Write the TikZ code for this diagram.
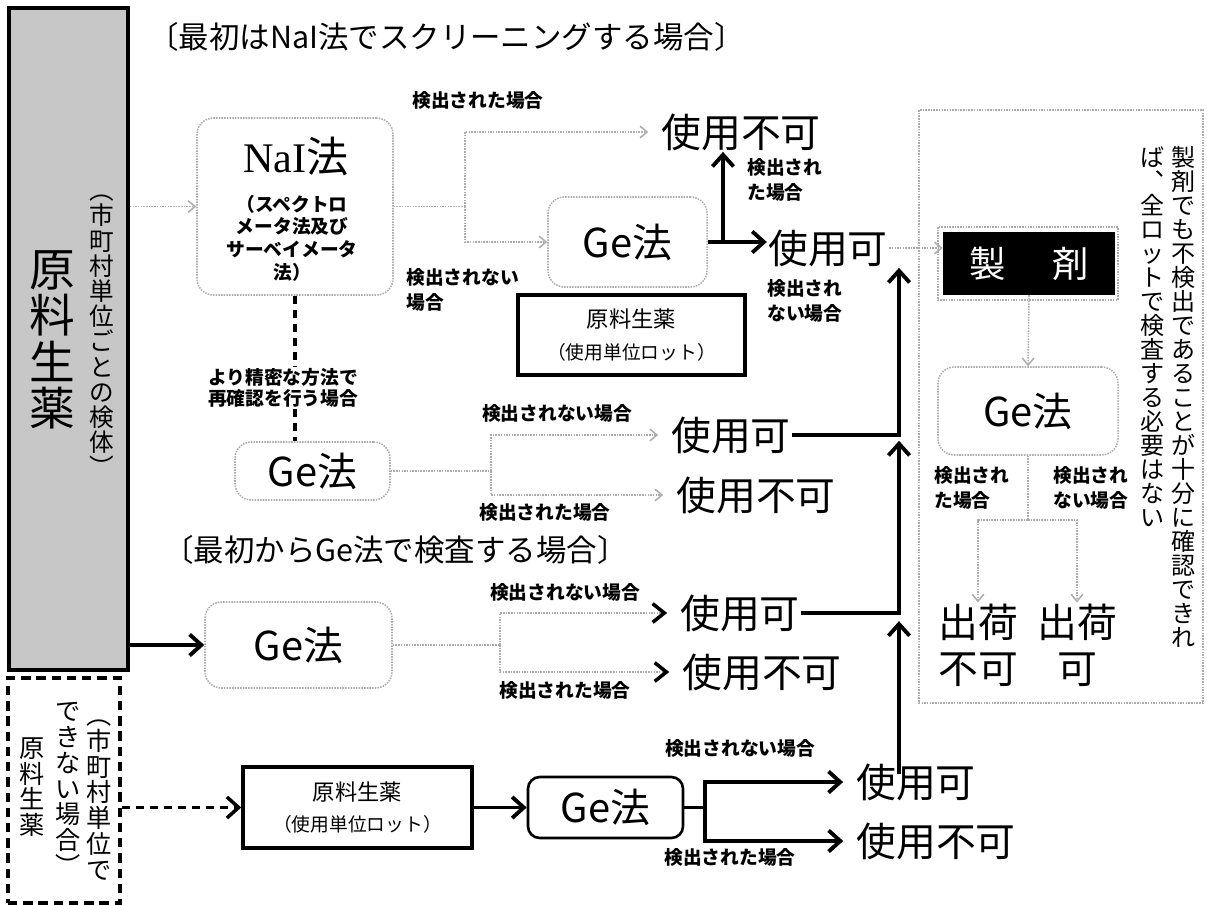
\documentclass[tikz,border=0pt]{standalone}
\usepackage{fontspec}
\setmainfont{Noto Sans CJK JP}
\newfontfamily\lserif{Liberation Serif}
\usetikzlibrary{arrows.meta}

\tikzset{
  gline/.style={draw=gray!65, densely dotted, line width=1.3pt},
  garr/.style={gline, -{Straight Barb[length=6pt,width=10pt]}},
  karr/.style={gline, -{Straight Barb[black,length=10pt,width=16pt,line width=3pt]}},
  bline/.style={draw=black, line width=3.3pt},
  barr/.style={bline, -{Straight Barb[length=10pt,width=18pt]}},
  kdash/.style={draw=black, line width=2.6pt, dash pattern=on 7pt off 5pt},
  tobig/.style={shorten >=10pt},
  dbox/.style={draw=gray!65, densely dotted, line width=1.3pt, rounded corners=14pt, inner sep=0pt},
  sbox/.style={draw=black, line width=3pt, inner sep=0pt},
  big/.style={inner sep=1pt, align=center, font=\fontsize{34}{39}\selectfont},
  gefont/.style={font=\fontsize{34}{40}\selectfont},
  lbl/.style={inner sep=1pt, align=left, font=\fontsize{16}{21}\selectfont\bfseries},
  head/.style={anchor=west, inner sep=0pt, font=\fontsize{26}{30}\selectfont},
  lot/.style={sbox, align=center, font=\fontsize{19}{27}\selectfont},
  tate/.style={inner sep=0pt, align=center},
}

\begin{document}
\begin{tikzpicture}[x=0.03cm, y=-0.03cm]
\useasboundingbox (0,0) rectangle (1207,905);

\node[head] (h1) at (148,37) {〔最初はNaI法でスクリーニングする場合〕};
\node[head] (h2) at (163,550) {〔最初からGe法で検査する場合〕};

% source boxes
\node[draw, line width=3.2pt, fill=black!22, minimum width=3.57cm, minimum height=19.86cm, inner sep=0pt] (src) at (68.5,339) {};
\node[tate, font=\fontsize{39}{39.5}\selectfont] (srcname) at (52,340) {原\\料\\生\\薬};
\node[tate, font=\fontsize{21}{21.5}\selectfont] (srcnote) at (102,336) {︵\\市\\町\\村\\単\\位\\ご\\と\\の\\検\\体\\︶};
\node[draw, line width=2.6pt, dash pattern=on 8pt off 5pt, minimum width=3.36cm, minimum height=6.75cm, inner sep=0pt] (srcb) at (64,790.5) {};
\node[tate, font=\fontsize{21.5}{22}\selectfont] (srcbn1) at (99,800) {︵\\市\\町\\村\\単\\位\\で};
\node[tate, font=\fontsize{21.5}{22}\selectfont] (srcbn2) at (68,789) {で\\き\\な\\い\\場\\合\\︶};
\node[tate, font=\fontsize{21.5}{22}\selectfont] (srcbn3) at (32,787) {原\\料\\生\\薬};

% NaI method
\node[dbox, minimum width=5.88cm, minimum height=5.31cm] (nai) at (295,206.5) {};
\node[inner sep=0pt, font=\fontsize{36}{40}\selectfont] (nainame) at (296,157) {{\lserif NaI}法};
\node[lbl, align=center, font=\fontsize{16}{19.4}\selectfont\bfseries] (naisub) at (292,238) {（スペクトロ\\メータ法及び\\サーベイメータ\\法）};
\draw[garr] (src.east |- nai.west) -- (nai.west);

\node[big] (ng1) at (741,132) {使用不可};
\node[dbox, gefont, minimum width=4.77cm, minimum height=2.7cm] (ge1) at (627.5,242) {Ge法};
\node[big] (ok1) at (828,248) {使用可};
\node[lot, minimum width=6.81cm, minimum height=2.4cm] (lot1) at (631.5,335) {原料生薬\\{\fontsize{16}{20}\selectfont （使用単位ロット）}};

\coordinate (j1) at (465,0);
\draw[gline] (nai.east) -- (nai.east -| j1);
\draw[garr, tobig] (nai.east -| j1) |- (ng1.west);
\draw[garr] (nai.east -| j1) |- (ge1.west);
\node[lbl] (l1a) at (478,100) {検出された場合};
\node[lbl, anchor=west] (l1b) at (405,290) {検出されない\\場合};

\draw[barr] (ge1.east) -- (ge1.east -| ok1.west);
\coordinate (u1) at (723,0);
\draw[barr] (ge1.east -| u1) -- (ng1.south -| u1);
\node[lbl, anchor=west] (l1c) at (746,180) {検出され\\た場合};
\node[lbl, anchor=west] (l1d) at (766,301) {検出され\\ない場合};

% re-check with Ge
\node[lbl, align=center, font=\fontsize{16}{17.5}\selectfont\bfseries] (why) at (283,388) {より精密な方法で\\再確認を行う場合};
\node[dbox, gefont, minimum width=4.65cm, minimum height=1.74cm] (ge2) at (312.5,471) {Ge法};
\draw[kdash] (nai.south) -- (nai.south |- why.north);
\draw[kdash] (nai.south |- why.south) -- (nai.south |- ge2.north);

\node[big] (ok2) at (731,435) {使用可};
\node[big] (ng2) at (756,495) {使用不可};
\coordinate (j2) at (491,0);
\draw[gline] (ge2.east) -- (ge2.east -| j2);
\draw[garr, tobig] (ge2.east -| j2) |- (ok2.west);
\draw[garr, tobig] (ge2.east -| j2) |- (ng2.west);
\node[lbl] (l2a) at (557,413) {検出されない場合};
\node[lbl] (l2b) at (545,512) {検出された場合};

% Ge from the start
\node[dbox, gefont, minimum width=5.61cm, minimum height=2.58cm] (ge3) at (298.5,645) {Ge法};
\draw[barr] (src.east |- ge3.west) -- (ge3.west);
\node[big] (ok3) at (740,613) {使用可};
\node[big] (ng3) at (762,672) {使用不可};
\coordinate (j3) at (500,0);
\draw[gline] (ge3.east) -- (ge3.east -| j3);
\draw[karr, tobig] (ge3.east -| j3) |- (ok3.west);
\draw[karr, tobig] (ge3.east -| j3) |- (ng3.west);
\node[lbl] (l3a) at (565,592) {検出されない場合};
\node[lbl] (l3b) at (565,690) {検出された場合};

% lot by lot
\node[lot, minimum width=6.87cm, minimum height=2.43cm] (lot4) at (357.5,807.5) {原料生薬\\{\fontsize{16}{20}\selectfont （使用単位ロット）}};
\node[draw, line width=2.2pt, rounded corners=10pt, gefont, minimum width=4.65cm, minimum height=1.83cm, inner sep=0pt] (ge4) at (605.5,807.5) {Ge法};
\draw[kdash, -{Straight Barb[length=10pt,width=18pt,line width=3pt]}] (srcb.east |- lot4.west) -- (lot4.west);
\draw[barr] (lot4.east) -- (ge4.west);
\node[big] (ok4) at (916,782) {使用可};
\node[big] (ng4) at (936,841) {使用不可};
\coordinate (j4) at (705,0);
\draw[bline] (ge4.east) -- (ge4.east -| j4);
\draw[barr, tobig] (ge4.east -| j4) |- (ok4.west);
\draw[barr, tobig] (ge4.east -| j4) |- (ng4.west);
\node[lbl] (l4a) at (740,748) {検出されない場合};
\node[lbl] (l4b) at (730,857) {検出された場合};

\coordinate (bus) at (899,0);
\draw[barr] (ok2.east) -- (ok2.east -| bus) -- (ok1.south -| bus);
\draw[barr, shorten >=-12pt] (ok3.east) -- (ok3.east -| bus) -- (ok2.south -| bus);
\draw[barr, shorten >=-10pt, shorten <=-10pt] (ok4.north -| bus) -- (ok3.south -| bus);

% preparations
\draw[gline] (919,110) rectangle (1203,703);
\draw[gline] (938,227) rectangle (1118,300);
\node[fill=black, text=white, minimum width=5.16cm, minimum height=1.89cm, inner sep=0pt, font=\fontsize{31}{31}\selectfont] (seizai) at (1029,263.5) {製\hspace{1.3em}剤};
\draw[garr] (ok1.east) -- (ok1.east -| seizai.west);
\node[dbox, gefont, minimum width=5.4cm, minimum height=2.64cm] (ge5) at (1028,411) {Ge法};
\draw[garr] (seizai.south) -- (ge5.north);
\node[big] (noship) at (978,645) {出荷\\不可};
\node[big] (ship) at (1077,645) {出荷\\可};
\coordinate (j5) at (0,520);
\draw[gline] (ge5.south) -- (ge5.south |- j5);
\draw[garr] (ge5.south |- j5) -| (noship.north);
\draw[garr] (ge5.south |- j5) -| (ship.north);
\node[lbl, anchor=west] (l5a) at (933,488) {検出され\\た場合};
\node[lbl, anchor=west] (l5b) at (1052,488) {検出され\\ない場合};
\node[tate, anchor=north, font=\fontsize{20.5}{20.5}\selectfont] (note1) at (1183,146) {製\\剤\\で\\も\\不\\検\\出\\で\\あ\\る\\こ\\と\\が\\十\\分\\に\\確\\認\\で\\き\\れ};
\node[tate, anchor=north, font=\fontsize{20.5}{20.5}\selectfont] (note2) at (1152,146) {ば\\︑\\全\\ロ\\ッ\\ト\\で\\検\\査\\す\\る\\必\\要\\は\\な\\い};
\end{tikzpicture}
\end{document}
